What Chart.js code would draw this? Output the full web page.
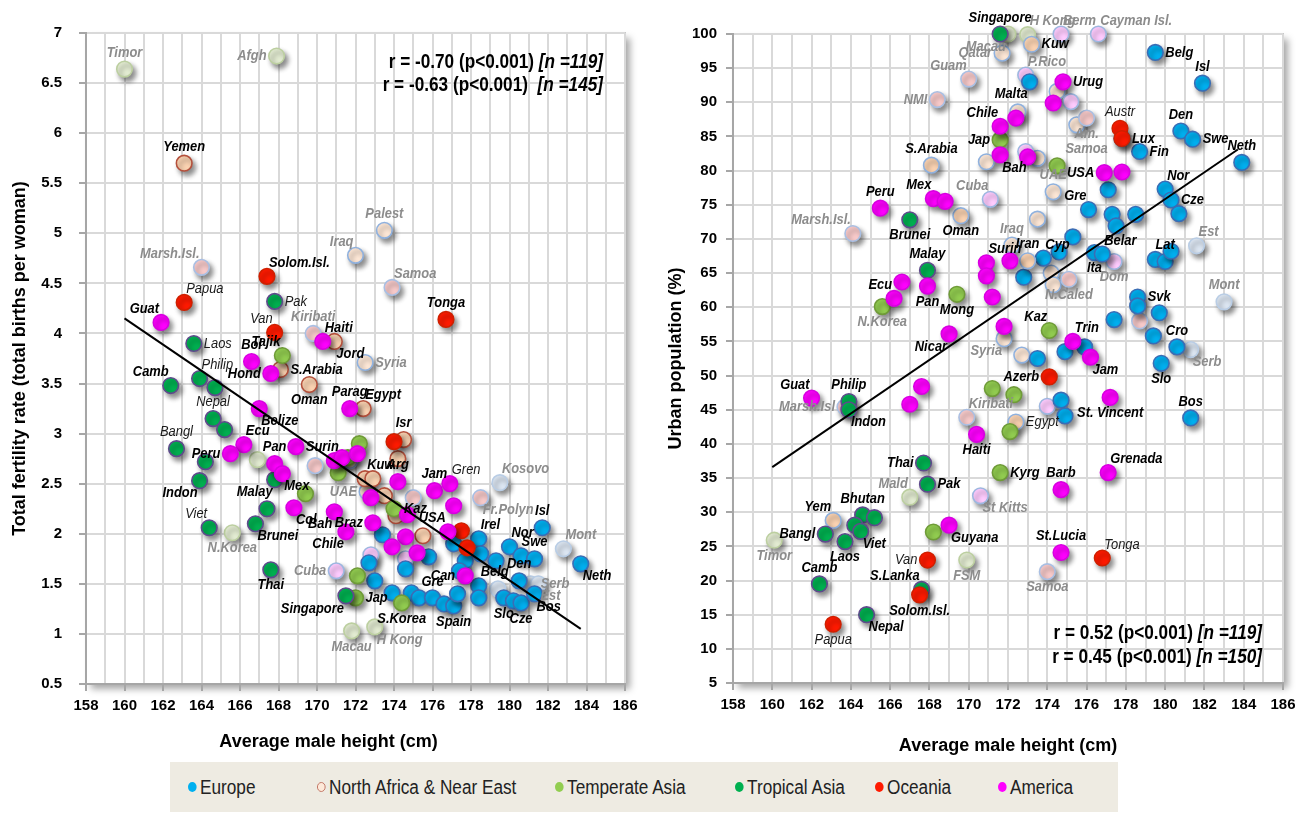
<!DOCTYPE html>
<html>
<head>
<meta charset="utf-8">
<script src="https://cdn.jsdelivr.net/npm/chart.js@4.4.1/dist/chart.umd.min.js"></script>
<style>
  body { margin: 0; background: #fff; width: 1312px; height: 814px; position: relative; overflow: hidden; }
  #wl { position: absolute; left: 0; top: 0; width: 650px; height: 760px; }
  #wr { position: absolute; left: 650px; top: 0; width: 662px; height: 760px; }
  #legend { position: absolute; left: 170px; top: 762px; width: 948px; height: 50px; background: #EEEBE2;
            font-family: 'Liberation Sans Narrow', 'Liberation Sans', Arial, sans-serif; font-size: 20px; color: #222; }
  #legend span { position: absolute; top: 0; line-height: 50px; white-space: nowrap; transform-origin: left center; }
  #legend i { display: inline-block; width: 10px; height: 10px; border-radius: 50%; margin-right: 4px; vertical-align: 2px; box-sizing: border-box; }
</style>
</head>
<body>
<div id="wl"><canvas id="chartL"></canvas></div>
<div id="wr"><canvas id="chartR"></canvas></div>
<div id="legend"></div>
<script>
(function () {
  'use strict'

// ---- data ----------------------------------------------------------
// [name, average male height (cm), value, set]  set: m = main sample (bold label),
// p = main sample (plain label), x = extended sample (grey label), k = grey label
var regions = ['Europe', 'North Africa & Near East', 'Temperate Asia', 'Tropical Asia', 'Oceania', 'America']

// fertility rate (total births per woman)
var europeTfr = [
  ['', 173.4, 1.99], ['', 172.7, 1.71], ['', 174.6, 1.65], ['', 175.8, 1.77], ['', 173.0, 1.53],
  ['', 173.9, 1.41], ['', 174.9, 1.41], ['', 175.3, 1.36], ['Gre', 176.0, 1.36], ['', 176.6, 1.30],
  ['Spain', 177.1, 1.28], ['', 177.3, 1.40], ['', 177.1, 1.90], ['', 177.7, 1.73], ['', 177.4, 1.63],
  ['Irel', 178.4, 1.95], ['', 178.5, 1.80], ['', 179.3, 1.73], ['Belg', 178.4, 1.48], ['', 178.4, 1.36],
  ['Nor', 180.0, 1.87], ['', 180.6, 1.78], ['Swe', 181.3, 1.75], ['Den', 180.5, 1.53], ['Slo', 179.7, 1.36],
  ['', 180.2, 1.33], ['Cze', 180.6, 1.31], ['Bos', 181.3, 1.40], ['Isl', 181.7, 2.06], ['Neth', 183.7, 1.70],
  ['', 179.4, 1.45, 'x'], ['Serb', 181.1, 1.50, 'x'], ['Est', 181.5, 1.50, 'x'], ['Mont', 182.8, 1.85, 'x'],
  ['Kosovo', 179.5, 2.51, 'x']
]
var nafTfr = [
  ['Yemen', 163.1, 5.70], ['S.Arabia', 168.1, 3.64], ['Oman', 169.6, 3.49], ['Jord', 170.9, 3.92],
  ['Egypt', 172.4, 3.25], ['Isr', 174.5, 2.94], ['', 174.2, 2.75], ['Kuw', 172.5, 2.55], ['', 172.9, 2.55],
  ['', 173.5, 2.38], ['', 174.1, 2.18], ['', 175.5, 1.98],
  ['Iraq', 172.0, 4.78, 'x'], ['Palest', 173.5, 5.03, 'x'], ['Syria', 172.5, 3.71, 'x'], ['UAE', 172.6, 2.42, 'x'],
  ['', 171.7, 2.73, 'x']
]
var tempAsiaTfr = [
  ['Tajik', 168.2, 3.78], ['', 169.4, 2.40], ['', 171.1, 2.61], ['', 172.2, 2.90], ['', 171.6, 2.76],
  ['Kaz', 174.0, 2.25], ['', 172.1, 1.58], ['Jap', 172.0, 1.36], ['S.Korea', 174.4, 1.31],
  ['Timor', 160.0, 6.64, 'x'], ['Afgh', 167.9, 6.77, 'x'], ['', 166.9, 2.74, 'x'], ['N.Korea', 165.6, 2.01, 'x'],
  ['Macau', 171.8, 1.03, 'x'], ['H Kong', 173.0, 1.07, 'x']
]
var tropAsiaTfr = [
  ['Pak', 167.8, 4.32, 'p'], ['Laos', 163.6, 3.90, 'p'], ['Camb', 162.4, 3.48], ['Philip', 163.9, 3.55, 'p'],
  ['', 164.7, 3.46], ['Nepal', 164.6, 3.15, 'p'], ['', 165.2, 3.04], ['Bangl', 162.7, 2.85, 'p'], ['', 164.2, 2.72],
  ['Indon', 163.9, 2.53], ['Malay', 167.8, 2.54], ['', 167.4, 2.25], ['Brunei', 166.8, 2.10], ['Viet', 164.4, 2.06, 'p'],
  ['Thai', 167.6, 1.64], ['Singapore', 171.5, 1.38]
]
var oceaniaTfr = [
  ['Solom.Isl.', 167.4, 4.57], ['Papua', 163.1, 4.31, 'p'], ['Van', 167.8, 4.01, 'p'], ['Tonga', 176.7, 4.14],
  ['', 174.0, 2.92], ['', 177.5, 2.03], ['', 177.8, 1.86],
  ['Marsh.Isl.', 164.0, 4.66, 'x'], ['Kiribati', 169.8, 4.00, 'x'], ['Samoa', 173.9, 4.46, 'x'], ['', 169.9, 2.68, 'x'],
  ['', 175.0, 2.36, 'x'], ['Fr.Polyn', 178.5, 2.36, 'x']
]
var americaTfr = [
  ['Guat', 161.9, 4.11], ['Haiti', 170.3, 3.92], ['Bol', 166.6, 3.72], ['Hond', 167.6, 3.60], ['Belize', 167.0, 3.25],
  ['Parag', 171.7, 3.25], ['Ecu', 166.2, 2.89], ['Peru', 165.5, 2.80], ['Pan', 167.8, 2.70], ['Mex', 168.2, 2.60],
  ['Surin', 168.9, 2.87], ['', 170.9, 2.73], ['', 171.3, 2.76], ['', 172.1, 2.80], ['Col', 168.8, 2.26],
  ['Bah', 170.9, 2.22], ['Chile', 171.5, 2.02], ['Arg', 174.2, 2.52], ['Jam', 176.1, 2.43], ['Gren', 176.9, 2.50, 'p'],
  ['', 177.1, 2.28], ['', 172.8, 2.36], ['', 174.7, 2.19], ['Braz', 172.9, 2.11], ['', 174.6, 1.97],
  ['USA', 176.8, 2.02], ['', 173.9, 1.87], ['', 175.2, 1.81], ['Can', 177.7, 1.58],
  ['Cuba', 171.0, 1.63, 'x'], ['', 172.8, 1.79, 'x'], ['', 174.6, 1.75, 'x']
]
var fitTfrX = [160, 183.7]
var fitTfrY = [4.15, 1.05]
var statsTfr = [['r = -0.70 (p<0.001) ', '[n =119]'], ['r = -0.63 (p<0.001)  ', '[n =145]']]

// urban population (%)
var europeUrb = [
  ['Malta', 173.1, 93.0], ['Belg', 179.5, 97.3], ['Isl', 181.9, 92.8], ['Den', 180.8, 85.8], ['Swe', 181.4, 84.6],
  ['Fin', 178.7, 82.8], ['Lux', 177.8, 84.7], ['Neth', 183.9, 81.2], ['', 177.1, 77.2], ['Nor', 180.0, 77.3],
  ['Cze', 180.3, 75.7], ['', 180.7, 73.7], ['Gre', 176.1, 74.3], ['', 177.3, 73.6], ['', 178.5, 73.6],
  ['', 177.5, 71.9], ['', 175.3, 70.3], ['', 174.6, 68.1], ['Cyp', 173.8, 67.2], ['', 172.8, 64.4],
  ['Ita', 176.4, 68.0], ['Belar', 176.8, 67.8], ['', 179.5, 67.0], ['Lat', 180.0, 66.7], ['', 180.3, 68.2],
  ['Svk', 178.6, 61.5], ['', 178.6, 60.2], ['', 179.7, 59.2], ['', 177.4, 58.2], ['', 179.4, 55.8],
  ['Cro', 180.6, 54.2], ['Slo', 179.8, 51.8], ['Bos', 181.3, 43.8], ['', 173.5, 52.5], ['', 174.9, 53.5],
  ['', 175.9, 54.2], ['', 174.7, 46.4], ['', 174.9, 44.1],
  ['Est', 181.6, 69.0, 'x'], ['Mont', 183.0, 60.8, 'x'], ['Serb', 181.3, 53.8, 'x']
]
var nafUrb = [
  ['Kuw', 173.2, 98.5], ['S.Arabia', 168.1, 80.8], ['Oman', 169.6, 73.4], ['Iran', 173.0, 66.8],
  ['Egypt', 172.4, 43.2, 'p'], ['Yem', 163.1, 28.8],
  ['Qatar', 171.7, 97.2, 'x'], ['UAE', 174.3, 76.9, 'x'], ['Iraq', 172.2, 69.1, 'x'], ['Syria', 171.8, 55.4, 'x'],
  ['', 174.5, 91.6, 'x'], ['', 172.5, 88.6, 'x'], ['', 170.9, 81.3, 'x'], ['', 173.5, 81.8, 'x'], ['', 175.5, 86.7, 'x'],
  ['', 173.5, 72.9, 'x'], ['', 174.2, 65.0, 'x'], ['', 174.3, 63.3, 'x'], ['', 172.7, 53.0, 'x']
]
var tempAsiaUrb = [
  ['Jap', 171.6, 84.5], ['', 174.5, 80.7], ['Mong', 169.4, 61.9], ['N.Korea', 165.6, 60.1, 'k'], ['Kaz', 174.1, 56.6],
  ['', 171.2, 48.1], ['', 172.3, 47.2], ['', 172.1, 41.8], ['Kyrg', 171.6, 35.8], ['', 168.2, 27.1],
  ['Macau', 172.0, 100, 'x'], ['H Kong', 173.0, 99.9, 'x'], ['Timor', 160.1, 25.9, 'x'], ['Mald', 167.0, 32.2, 'x'],
  ['FSM', 169.9, 23.0, 'x']
]
var tropAsiaUrb = [
  ['Singapore', 171.6, 100], ['Brunei', 167.0, 72.8], ['Malay', 167.9, 65.4], ['Philip', 163.9, 46.2],
  ['Indon', 163.9, 45.0], ['Thai', 167.7, 37.2], ['Pak', 167.9, 34.1], ['Bhutan', 164.6, 29.6], ['', 165.2, 29.2],
  ['', 164.2, 28.1], ['Viet', 164.5, 27.2], ['Bangl', 162.7, 26.8], ['Laos', 163.7, 25.7], ['Camb', 162.4, 19.5],
  ['S.Lanka', 167.6, 18.7], ['Nepal', 164.8, 15.0]
]
var oceaniaUrb = [
  ['Austr', 177.7, 86.2, 'p'], ['', 177.8, 84.7], ['Azerb', 174.1, 49.8], ['Van', 167.9, 23.0, 'p'],
  ['Tonga', 176.8, 23.3, 'p'], ['Solom.Isl.', 167.5, 17.9], ['Papua', 163.1, 13.6, 'p'],
  ['Guam', 170.0, 93.4, 'x'], ['NMI', 168.4, 90.4, 'x'], ['Marsh.Isl.', 164.1, 70.8, 'x'], ['Am.\nSamoa', 176.0, 87.7, 'x'],
  ['N.Caled', 175.1, 64.1, 'x'], ['', 178.7, 58.0, 'x'], ['Kiribati', 169.9, 43.9, 'x'], ['Samoa', 174.0, 21.3, 'x'],
  ['Marsh.Isl', 163.7, 45.4, 'x']
]
var americaUrb = [
  ['Urug', 174.8, 93.0], ['', 174.3, 89.9], ['Chile', 171.6, 86.5], ['', 172.4, 87.7], ['Bah', 171.6, 82.3],
  ['', 173.0, 82.0], ['USA', 176.9, 79.7], ['', 177.8, 79.8], ['Mex', 168.2, 75.9], ['', 168.8, 75.5],
  ['Peru', 165.5, 74.5], ['Surin', 170.9, 66.5], ['', 170.9, 64.6], ['', 172.1, 66.8], ['', 166.6, 63.7],
  ['Pan', 167.9, 63.1], ['Ecu', 166.2, 61.3], ['', 171.2, 61.5], ['Nicar', 169.0, 56.1], ['', 171.8, 57.2],
  ['Trin', 175.3, 55.0], ['Jam', 176.2, 52.7], ['', 167.6, 48.4], ['', 167.0, 45.8], ['Guat', 162.0, 46.7],
  ['Haiti', 170.4, 41.4], ['St. Vincent', 177.2, 46.8], ['Grenada', 177.1, 35.8], ['Barb', 174.7, 33.3],
  ['Guyana', 169.0, 28.1], ['St.Lucia', 174.7, 24.1],
  ['Berm', 174.7, 100, 'x'], ['Cayman Isl.', 176.6, 100, 'x'], ['P.Rico', 172.9, 94.0, 'x'], ['', 175.2, 90.1, 'x'],
  ['', 172.9, 82.8, 'x'], ['Cuba', 171.1, 75.8, 'x'], ['Dom', 177.4, 66.7, 'x'], ['', 174.0, 45.5, 'x'],
  ['St Kitts', 170.6, 32.4, 'x']
]
var fitUrbX = [160, 183.7]
var fitUrbY = [36.6, 83.1]
var statsUrb = [['r = 0.52 (p<0.001) ', '[n =119]'], ['r = 0.45 (p<0.001) ', '[n =150]']]

// ---- label placement (t, b, l, r, tl, tr, bl, br) --------------------
var sideL = {
  Timor: 't', Afgh: 'l', Yemen: 't', 'Marsh.Isl.': 'tl', 'Solom.Isl.': 'tr', Papua: 'tr', Pak: 'r', Guat: 'tl',
  Van: 'tl', Kiribati: 't', Haiti: 'tr', Jord: 'br', Laos: 'r', Bol: 't', Tajik: 'tl', Hond: 'l', 'S.Arabia': 'r',
  Oman: 'b', Camb: 'tl', Philip: 'tr', Nepal: 't', Belize: 'br', Bangl: 't', Peru: 'l', Ecu: 'tr', Pan: 't',
  Surin: 'r', Indon: 'bl', Malay: 'bl', Mex: 'br', Viet: 'tl', 'N.Korea': 'b', Brunei: 'br', Col: 'br', Bah: 'bl',
  Chile: 'bl', Thai: 'b', Cuba: 'l', Singapore: 'bl', Jap: 'r', 'S.Korea': 'b', Macau: 'b', 'H Kong': 'br',
  Iraq: 'tl', Palest: 't', Samoa: 'tr', Tonga: 't', Syria: 'r', Parag: 't', Egypt: 'tr', Isr: 't', Kuw: 'tr',
  Arg: 't', Jam: 't', Gren: 'tr', Kosovo: 'tr', 'Fr.Polyn': 'br', UAE: 'l', Kaz: 'r', Braz: 'l', USA: 'tl',
  Irel: 'tr', Nor: 'tr', Isl: 't', Swe: 't', Mont: 'tr', Can: 'l', Belg: 'tr', Den: 't', Serb: 'r', Est: 'br',
  Neth: 'br', Gre: 't', Spain: 'b', Slo: 'b', Cze: 'b', Bos: 'br'
}
var sideR = {
  Singapore: 't', Macau: 'bl', 'H Kong': 'tr', Kuw: 'r', Berm: 'tr', 'Cayman Isl.': 'tr', Qatar: 'l', Guam: 'tl',
  NMI: 'l', 'P.Rico': 'tr', Malta: 'bl', Urug: 'r', Chile: 'tl', Jap: 'l', Bah: 'br', 'S.Arabia': 't', Cuba: 'tl',
  Mex: 'tl', Peru: 't', Brunei: 'b', Oman: 'b', 'Marsh.Isl.': 'tl', UAE: 't', USA: 'l', Austr: 't', Lux: 'r',
  'Am.\nSamoa': 'b', Belg: 'r', Isl: 't', Den: 't', Swe: 'r', Fin: 'r', Neth: 't', Nor: 'tr', Cze: 'r', Gre: 'tl',
  Iraq: 't', Iran: 't', Cyp: 'tr', Belar: 'tr', Ita: 'b', Dom: 'b', Lat: 't', Est: 'tr', Mont: 't', Svk: 'r',
  Cro: 't', Serb: 'br', Slo: 'b', Bos: 't', 'N.Caled': 'b', Malay: 't', Surin: 'tr', Pan: 'b', Mong: 'b', Ecu: 'tl',
  'N.Korea': 'b', Nicar: 'bl', Syria: 'bl', Kaz: 'tl', Trin: 'tr', Azerb: 'l', Jam: 'br', 'St. Vincent': 'b',
  Egypt: 'r', Kiribati: 'tr', Haiti: 'b', Kyrg: 'r', Barb: 't', Grenada: 'tr', 'St.Lucia': 't', Tonga: 'tr',
  Samoa: 'b', 'St Kitts': 'br', Guat: 'tl', Philip: 't', Indon: 'br', 'Marsh.Isl': 'l', Thai: 'l', Pak: 'r',
  Mald: 'tl', Bhutan: 't', Yem: 'tl', Bangl: 'l', Viet: 'br', Timor: 'b', Laos: 'b', Guyana: 'br', Van: 'l',
  FSM: 'b', Camb: 't', 'S.Lanka': 'tl', 'Solom.Isl.': 'b', Nepal: 'br', Papua: 'b'
}

// ---- styles --------------------------------------------------------
var NARROW = "'Liberation Sans Narrow', 'Liberation Sans', Arial, sans-serif"
var SANS = "'Liberation Sans', Arial, sans-serif"

var palette = {
  E: { fill: '#00B0F0', border: '#3A6DB5', paleFill: '#DCE6F2', paleBorder: '#B9CDE5' },
  N: { fill: '#FBD3B2', border: '#B4503C', paleFill: '#FDE7D6', paleBorder: '#8FB1DE' },
  T: { fill: '#92CD50', border: '#6F9B38', paleFill: '#E3ECD2', paleBorder: '#BCCFA0' },
  R: { fill: '#00B050', border: '#5F4A8C', paleFill: '#E3ECD2', paleBorder: '#BCCFA0' },
  O: { fill: '#FF1A00', border: '#D02000', paleFill: '#F8CACA', paleBorder: '#A9BFE3' },
  A: { fill: '#FF00FF', border: '#D800E0', paleFill: '#FFCCFF', paleBorder: '#9DB7E0' }
}
var codes = ['E', 'N', 'T', 'R', 'O', 'A']

// is the narrow face installed? if not, squeeze the regular face horizontally
var probe = document.createElement('canvas').getContext('2d')
probe.font = "15px 'Liberation Sans Narrow', monospace"
var wN = probe.measureText('Singapore Average').width
probe.font = '15px monospace'
var hasNarrow = Math.abs(wN - probe.measureText('Singapore Average').width) > 1
var SQ = hasNarrow ? 1 : 0.86
var LBL = 15

// draw text squeezed horizontally around its anchor
function narrowText (c, t, x, y) {
  c.save()
  c.translate(x, y)
  c.scale(SQ, 1)
  c.fillText(t, 0, 0)
  c.restore()
}

function toPoints (arr) {
  return arr.map(function (p) { return { x: p[1], y: p[2], name: p[0], set: p[3] || 'm' } })
}

function scatterSet (arr, fill, border) {
  return {
    type: 'scatter',
    data: toPoints(arr),
    pointBackgroundColor: fill,
    pointBorderColor: border,
    pointBorderWidth: 1.6,
    pointRadius: 7.8,
    pointHoverRadius: 7.8,
    clip: false
  }
}

function buildSets (series, fitX, fitY, nBorder) {
  var vivid = [], pale = []
  // series ordered bottom -> top: E, N, T, R, O, A ; chart draws index 0 last
  series.forEach(function (arr, i) {
    var st = palette[codes[i]]
    var border = (codes[i] === 'N' && nBorder) ? nBorder : st.border
    vivid.unshift(scatterSet(arr.filter(function (p) { return p[3] !== 'x' }), st.fill, border))
    pale.unshift(scatterSet(arr.filter(function (p) { return p[3] === 'x' }), st.paleFill, st.paleBorder))
  })
  var line = {
    type: 'line',
    data: fitX.map(function (x, i) { return { x: x, y: fitY[i] } }),
    borderColor: '#000',
    borderWidth: 2,
    pointRadius: 0,
    fill: false,
    clip: false
  }
  return [line].concat(vivid, pale)
}

// ---- plugins -------------------------------------------------------
var framePlugin = {
  id: 'frame',
  beforeDraw: function (chart) {
    var c = chart.ctx, a = chart.chartArea
    c.save()
    c.fillStyle = '#fff'
    c.fillRect(0, 0, chart.width, chart.height)
    c.shadowColor = 'rgba(0,0,0,0.35)'
    c.shadowBlur = 7
    c.shadowOffsetX = 5
    c.shadowOffsetY = 5
    c.fillRect(a.left, a.top, a.width, a.height)
    c.restore()
    c.save()
    c.strokeStyle = '#C8C8C8'
    c.lineWidth = 2
    c.strokeRect(a.left, a.top, a.width, a.height)
    c.restore()
  }
}

var shadowPlugin = {
  id: 'dotShadow',
  beforeDatasetDraw: function (chart, args) {
    if (args.meta.type === 'line') return
    var c = chart.ctx
    c.save()
    c.shadowColor = 'rgba(0,0,0,0.45)'
    c.shadowBlur = 5
    c.shadowOffsetX = 3
    c.shadowOffsetY = 4
  },
  afterDatasetDraw: function (chart, args) {
    if (args.meta.type === 'line') return
    chart.ctx.restore()
  }
}

var labelPlugin = {
  id: 'countryLabels',
  afterDatasetsDraw: function (chart, args, opts) {
    var c = chart.ctx
    var sides = opts.sides || {}
    c.save()
    chart.data.datasets.forEach(function (ds, i) {
      if (ds.type === 'line') return
      var meta = chart.getDatasetMeta(i)
      meta.data.forEach(function (el, j) {
        var d = ds.data[j]
        if (!d.name) return
        var grey = d.set === 'x' || d.set === 'k'
        c.font = (d.set === 'p' ? 'italic ' : 'italic bold ') + LBL + 'px ' + NARROW
        c.fillStyle = grey ? '#8C8C8C' : (d.set === 'p' ? '#1A1A1A' : '#000')
        var s = sides[d.name] || 'r'
        var x = el.x, y = el.y, lines = d.name.split('\n'), lh = LBL
        var align = 'center', top
        if (s === 't') { top = y - 9 - lines.length * lh }
        else if (s === 'b') { top = y + 8 }
        else if (s === 'l') { align = 'right'; x -= 10; top = y - lines.length * lh / 2 }
        else if (s === 'r') { align = 'left'; x += 10; top = y - lines.length * lh / 2 }
        else if (s === 'tl') { align = 'right'; x -= 2; top = y - 6 - lines.length * lh }
        else if (s === 'tr') { align = 'left'; x += 2; top = y - 6 - lines.length * lh }
        else if (s === 'bl') { align = 'right'; x -= 2; top = y + 5 }
        else { align = 'left'; x += 2; top = y + 5 }
        c.textAlign = align
        c.textBaseline = 'middle'
        lines.forEach(function (t, k) { narrowText(c, t, x, top + lh * k + lh / 2) })
      })
    })
    c.restore()
  }
}

var statsPlugin = {
  id: 'stats',
  afterDraw: function (chart, args, opts) {
    var c = chart.ctx, a = chart.chartArea
    var f1 = 'bold 20px ' + NARROW, f2 = 'italic bold 20px ' + NARROW
    c.save()
    c.fillStyle = '#000'
    c.textBaseline = 'middle'
    c.textAlign = 'left'
    opts.lines.forEach(function (ln, k) {
      var y = opts.atBottom ? a.bottom - opts.dy - (opts.lines.length - 1 - k) * 24 : a.top + opts.dy + k * 23
      c.font = f1
      var w1 = c.measureText(ln[0]).width * SQ
      c.font = f2
      var w2 = c.measureText(ln[1]).width * SQ
      var x = a.right - opts.dx - w1 - w2
      c.font = f1
      narrowText(c, ln[0], x, y)
      c.font = f2
      narrowText(c, ln[1], x + w1, y)
    })
    c.restore()
  }
}

function axisTicks (step, even, pad) {
  return {
    stepSize: step,
    autoSkip: false,
    maxRotation: 0,
    minRotation: 0,
    padding: pad,
    color: '#000',
    font: { family: SANS, size: 15, weight: 'bold' },
    callback: function (v) { return (even && v % 2 !== 0) ? '' : String(v) }
  }
}

function makeChart (id, cfg) {
  return new Chart(document.getElementById(id), {
    type: 'scatter',
    data: { datasets: buildSets(cfg.series, cfg.fitX, cfg.fitY, cfg.nBorder) },
    plugins: [framePlugin, shadowPlugin, labelPlugin, statsPlugin],
    options: {
      responsive: true,
      maintainAspectRatio: false,
      animation: false,
      events: [],
      layout: { padding: cfg.pad },
      plugins: {
        legend: { display: false },
        tooltip: { enabled: false },
        countryLabels: { sides: cfg.sides },
        stats: cfg.stats
      },
      scales: {
        x: {
          type: 'linear',
          min: 158,
          max: 186,
          ticks: axisTicks(1, true, 6),
          grid: {
            color: '#D9D9D9',
            lineWidth: 2,
            tickLength: 7,
            tickWidth: 2,
            tickColor: function (ctx) { return ctx.tick && ctx.tick.value % 2 !== 0 ? 'rgba(0,0,0,0)' : '#A6A6A6' }
          },
          border: { color: '#A6A6A6', width: 2 },
          title: { display: true, text: cfg.xTitle, color: '#000', padding: { top: 0, bottom: cfg.xTitlePad },
                   font: { family: SANS, size: 18, weight: 'bold' } },
          afterFit: function (s) { s.height = cfg.xHeight }
        },
        y: {
          type: 'linear',
          min: cfg.yMin,
          max: cfg.yMax,
          ticks: axisTicks(cfg.yStep, false, cfg.yTickPad),
          grid: { color: '#D9D9D9', lineWidth: 2, tickLength: 7, tickWidth: 2, tickColor: '#A6A6A6' },
          border: { color: '#A6A6A6', width: 2 },
          title: { display: true, text: cfg.yTitle, color: '#000', padding: { top: cfg.yTitlePad, bottom: 0 },
                   font: { family: SANS, size: 18, weight: 'bold' } },
          afterFit: function (s) { s.width = cfg.yWidth }
        }
      }
    }
  })
}

makeChart('chartL', {
  series: [europeTfr, nafTfr, tempAsiaTfr, tropAsiaTfr, oceaniaTfr, americaTfr],
  fitX: fitTfrX, fitY: fitTfrY,
  yMin: 0.5, yMax: 7, yStep: 0.5,
  yTitle: 'Total fertility rate (total births per woman)',
  // title sits left of the plot centre in the original
  xTitle: 'Average male height (cm)\u2003\u2003\u2003',
  pad: { top: 33, right: 25, bottom: 6, left: 0 }, yWidth: 86, xHeight: 70,
  yTitlePad: 9, yTickPad: 17, xTitlePad: 1,
  sides: sideL,
  stats: { lines: statsTfr, dx: 22, dy: 29, atBottom: false }
})

makeChart('chartR', {
  series: [europeUrb, nafUrb, tempAsiaUrb, tropAsiaUrb, oceaniaUrb, americaUrb],
  fitX: fitUrbX, fitY: fitUrbY,
  yMin: 5, yMax: 100, yStep: 5,
  yTitle: 'Urban population (%)',
  xTitle: 'Average male height (cm)',
  pad: { top: 34, right: 29, bottom: 3, left: 0 }, yWidth: 83, xHeight: 74,
  yTitlePad: 15, yTickPad: 9, xTitlePad: 0,
  sides: sideR,
  stats: { lines: statsUrb, dx: 21, dy: 26, atBottom: true },
  nBorder: '#8FB1DE'
})

// legend
var lgPos = [18, 147, 385, 565, 705, 828]
var lg = document.getElementById('legend')
regions.forEach(function (name, i) {
  var st = palette[codes[i]]
  var span = document.createElement('span')
  span.style.left = lgPos[i] + 'px'
  span.style.transform = 'scaleX(' + SQ + ')'
  var dot = document.createElement('i')
  if (codes[i] === 'N') {
    dot.style.background = '#FDE9D9'
    dot.style.border = '1.5px solid #C07060'
  } else {
    dot.style.background = st.fill
  }
  span.appendChild(dot)
  span.appendChild(document.createTextNode(name))
  lg.appendChild(span)
})

})()
</script>
</body>
</html>
